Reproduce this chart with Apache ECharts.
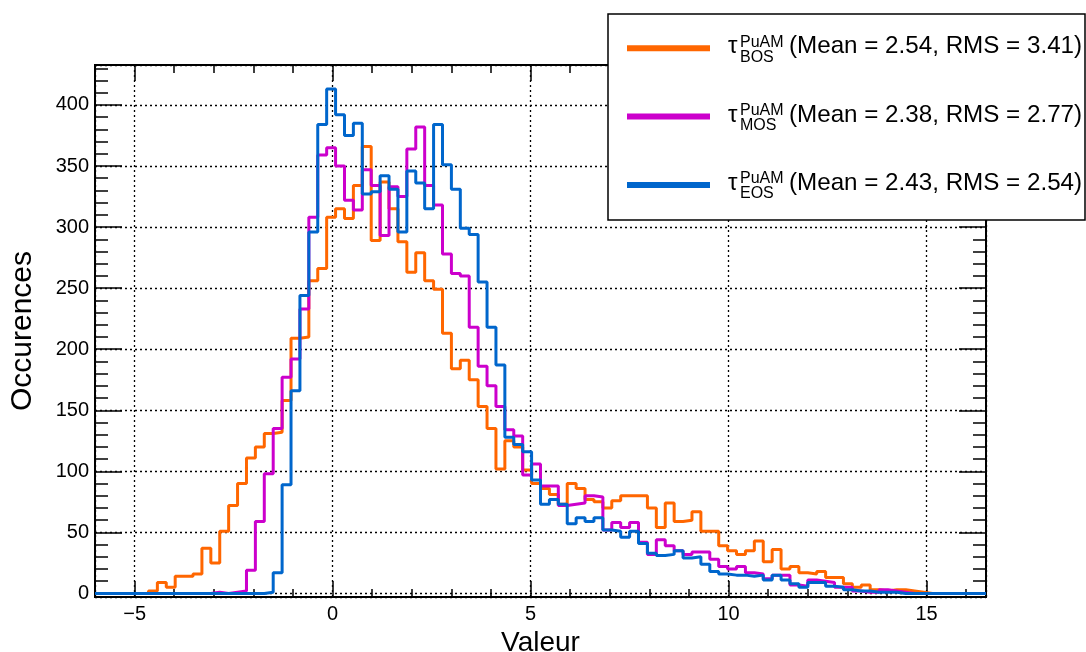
<!DOCTYPE html>
<html>
<head>
<meta charset="utf-8">
<script src="https://cdn.jsdelivr.net/npm/echarts@6/dist/echarts.min.js"></script>
<style>html,body{margin:0;padding:0;background:#fff}#c{width:1086px;height:652px}</style>
</head>
<body>
<div id="c"></div>
<script>
// ---- data ----
const xMin = -6, xMax = 16.5, nBins = 100;
const yMin = -2.9, yMax = 432.7;
const xTitle = 'Valeur';
const yTitle = 'Occurences';
const countsBOS = [0,0,0,0,0,0,
  2,9,5,14,14,16,37,25,51,72,
  90,111,120,131,132,158,209,210,256,266,
  308,315,307,334,366,289,337,315,288,263,
  279,256,249,213,184,191,175,153,135,102,
  125,120,101,90,86,81,73,90,86,77,
  75,70,76,80,80,80,70,54,74,59,
  60,67,51,51,39,35,32,35,43,26,
  36,20,22,17,16,18,13,13,8,5,
  7,3,2,3,3,2,1,0,0,0,
  0,0,0,0];
const countsMOS = [0,0,0,0,0,0,0,0,0,0,0,0,0,
  1,0,1,2,
  19,59,98,135,177,192,233,308,359,365,
  350,322,314,347,334,293,333,325,364,382,
  334,318,278,262,260,218,186,170,153,134,
  129,97,106,88,88,72,73,74,80,79,
  52,58,54,58,42,32,44,39,35,32,
  34,34,28,22,20,22,17,16,12,15,
  15,7,6,11,10,9,5,5,2,1,
  1,3,2,1,
  0,0,0,0,0,0,0,0,0];
const countsEOS = [0,0,0,0,0,0,0,0,0,0,0,0,0,0,0,0,0,0,0,
  1,17,89,166,244,296,384,413,392,375,
  385,327,329,342,331,296,346,336,315,384,
  351,331,299,294,255,218,187,128,122,116,
  93,73,77,73,57,62,59,62,52,51,
  46,51,41,33,31,32,35,29,30,24,
  18,16,15,15,14,15,11,15,11,8,
  5,9,9,6,5,3,2,2,1,1,
  1,
  0,0,0,0,0,0,0,0,0,0];
const seriesKeys = ['BOS','MOS','EOS'];
const seriesSup = 'PuAM';
const seriesMeans = ['2.54','2.38','2.43'];
const seriesRMS = ['3.41','2.77','2.54'];
const seriesCounts = [countsBOS, countsMOS, countsEOS];
const seriesColors = ['#ff6600','#cc00cc','#0066cc'];

// ---- chart ----
const FONT = '"Liberation Sans", Arial, Helvetica, sans-serif';
const binW = (xMax - xMin) / nBins;
function stepData(counts) {
  const d = counts.map((v, i) => [xMin + i * binW, v]);
  d.push([xMax, counts[counts.length - 1]]);
  return d;
}
const fmt = v => { const r = Math.round(v * 1000) / 1000; return r < 0 ? '\u2212' + (-r) : String(Math.abs(r) === 0 ? 0 : r); };
const lineStyleAxis = { show: true, onZero: false, lineStyle: { color: '#000', width: 2 } };
const gridDots = { show: true, lineStyle: { color: '#000', width: 1.3, type: [2, 3] } };

function xAx(pos, major, main) {
  const a = {
    type: 'value', position: pos, min: xMin, max: xMax,
    axisLine: lineStyleAxis,
    axisTick: { show: true, inside: true, length: major ? 16 : 8, lineStyle: { color: '#000', width: 1.5 } },
    axisLabel: { show: false },
    splitLine: { show: false },
    minorTick: { show: false }
  };
  if (major) a.splitNumber = 5; else a.interval = 1;
  if (main) {
    a.axisLabel = { show: true, margin: 7, fontSize: 20, color: '#000', fontFamily: FONT,
      showMinLabel: false, showMaxLabel: false, formatter: fmt };
    a.splitLine = gridDots;
    a.name = xTitle; a.nameLocation = 'middle'; a.nameGap = 29;
    a.nameTextStyle = { fontSize: 28, color: '#000', fontFamily: FONT };
  }
  return a;
}
function yAx(pos, major, main) {
  const a = {
    type: 'value', position: pos, min: yMin, max: yMax,
    axisLine: lineStyleAxis,
    axisTick: { show: true, inside: true, length: major ? 27 : 13, lineStyle: { color: '#000', width: 1.5 } },
    axisLabel: { show: false },
    splitLine: { show: false },
    minorTick: { show: false },
    splitNumber: major ? 8 : 44
  };
  if (main) {
    a.axisLabel = { show: true, margin: 6, fontSize: 20, color: '#000', fontFamily: FONT,
      showMinLabel: false, showMaxLabel: false, formatter: fmt };
    a.splitLine = gridDots;
    a.name = yTitle; a.nameLocation = 'middle'; a.nameGap = 57;
    a.nameTextStyle = { fontSize: 30, color: '#000', fontFamily: FONT };
  }
  return a;
}

// legend (graphic)
const legX = 608, legY = 14, legW = 477, legH = 206;
const rowBase = [55, 123.3, 191.7];
const LZ = 200;
const legendChildren = [{
  type: 'rect', z: LZ, shape: { x: legX, y: legY, width: legW, height: legH },
  style: { fill: '#fff', stroke: '#000', lineWidth: 1.5 }
}];
seriesKeys.forEach((k, i) => {
  const b = rowBase[i];
  legendChildren.push({ type: 'line', z: LZ + 1, shape: { x1: 627, y1: b - 6.7, x2: 710, y2: b - 6.7 },
    style: { stroke: seriesColors[i], lineWidth: 6 } });
  legendChildren.push({ type: 'text', z: LZ + 1, x: 728, y: b - 8.4,
    style: { text: '\u03c4', font: '24px ' + FONT, fill: '#000', verticalAlign: 'middle', align: 'left' } });
  legendChildren.push({ type: 'text', z: LZ + 1, x: 740, y: b - 8.3 - 4.6,
    style: { text: seriesSup, font: '16px ' + FONT, fill: '#000', verticalAlign: 'middle', align: 'left' } });
  legendChildren.push({ type: 'text', z: LZ + 1, x: 740, y: b + 6.7 - 4.6,
    style: { text: k, font: '16px ' + FONT, fill: '#000', verticalAlign: 'middle', align: 'left' } });
  legendChildren.push({ type: 'text', z: LZ + 1, x: 789, y: b - 8.4,
    style: { text: '(Mean = ' + seriesMeans[i] + ', RMS = ' + seriesRMS[i] + ')', font: '24.2px ' + FONT,
      fill: '#000', verticalAlign: 'middle', align: 'left' } });
});

const chart = echarts.init(document.getElementById('c'), null, { renderer: 'canvas' });
chart.setOption({
  animation: false,
  backgroundColor: '#fff',
  grid: { left: 95, right: 100, top: 65, bottom: 55, containLabel: false, outerBoundsMode: 'none' },
  xAxis: [xAx('bottom', true, true), xAx('bottom', false, false), xAx('top', true, false), xAx('top', false, false)],
  yAxis: [yAx('left', true, true), yAx('left', false, false), yAx('right', true, false), yAx('right', false, false)],
  series: seriesKeys.map((k, i) => ({
    name: k, type: 'line', step: 'end', xAxisIndex: 0, yAxisIndex: 0,
    data: stepData(seriesCounts[i]), symbol: 'none', showSymbol: false,
    lineStyle: { color: seriesColors[i], width: 3 }, itemStyle: { color: seriesColors[i] },
    z: 2 + i
  })),
  graphic: [{ type: 'group', zlevel: 1, z: LZ, children: legendChildren }]
});
</script>
</body>
</html>
